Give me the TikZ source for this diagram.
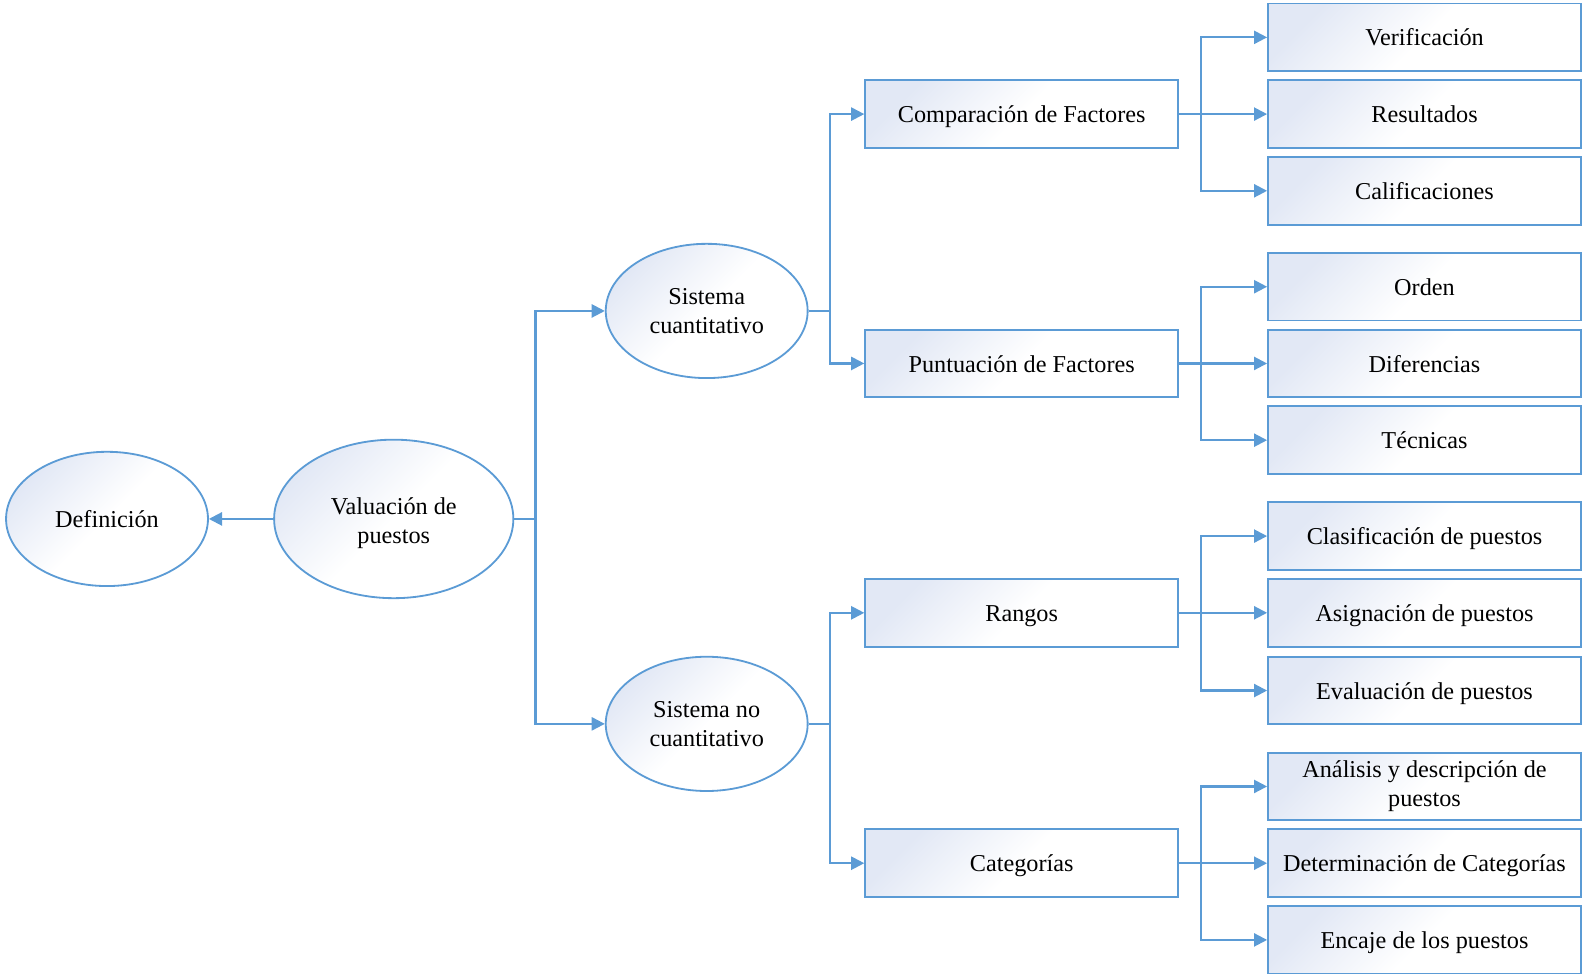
\documentclass[tikz,border=0pt]{standalone}
\usepackage{fontspec}
\setmainfont{Liberation Serif}
\usepackage{tikz}
\usetikzlibrary{shapes.geometric, arrows.meta}
\definecolor{lineblue}{HTML}{5B9BD5}
\definecolor{gradblue}{HTML}{E2E8F5}
\tikzset{
  base/.style={draw=lineblue, line width=0.9pt, top color=gradblue, bottom color=white, middle color=white, shading angle=45, font=\fontsize{12}{14.5}\selectfont, align=center, inner sep=0pt},
  oval/.style={base, ellipse, minimum width=100pt, minimum height=66.5pt},
  bigoval/.style={base, ellipse, minimum width=118.5pt, minimum height=78.5pt},
  box/.style={base, rectangle, minimum width=155pt, minimum height=33.5pt, text height=11pt, text depth=2.5pt},
  twobox/.style={base, rectangle, minimum width=155pt, minimum height=33.5pt},
  conn/.style={draw=lineblue, line width=1.05pt, -{Triangle[length=6.5pt, width=6.5pt]}}
}
\begin{document}
\begin{tikzpicture}[x=0.5pt, y=-0.5pt]
\useasboundingbox (0,0) rectangle (1568,964);
\node[oval] (def) at (106,514) {Definición};
\node[bigoval] (val) at (390,514) {\rule{0pt}{12.5pt}Valuación de\\puestos};
\node[oval] (sc) at (700,308) {Sistema\\cuantitativo};
\node[oval] (snc) at (700,717) {Sistema no\\cuantitativo};
\node[box] (cf) at (1012,113) {Comparación de Factores};
\node[box] (pf) at (1012,360) {Puntuación de Factores};
\node[box] (ran) at (1012,607) {Rangos};
\node[box] (cat) at (1012,855) {Categorías};
\node[box] (ver) at (1411,37) {Verificación};
\node[box] (res) at (1411,113) {Resultados};
\node[box] (cal) at (1411,189) {Calificaciones};
\node[box] (ord) at (1411,284) {Orden};
\node[box] (dif) at (1411,360) {Diferencias};
\node[box] (tec) at (1411,436) {Técnicas};
\node[box] (clp) at (1411,531) {Clasificación de puestos};
\node[box] (asp) at (1411,607) {Asignación de puestos};
\node[box] (evp) at (1411,684) {Evaluación de puestos};
\node[twobox] (adp) at (1411,779) {Análisis y descripción de\\puestos};
\node[box] (dec) at (1411,855) {Determinación de Categorías};
\node[box] (enp) at (1411,931) {Encaje de los puestos};
\draw[conn] (val.west) -- (def.east);
\draw[conn] (val.east) -- ++(21,0) |- (sc.west);
\draw[conn] (val.east) -- ++(21,0) |- (snc.west);
\draw[conn] (sc.east) -- ++(21,0) |- (cf.west);
\draw[conn] (sc.east) -- ++(21,0) |- (pf.west);
\draw[conn] (snc.east) -- ++(21,0) |- (ran.west);
\draw[conn] (snc.east) -- ++(21,0) |- (cat.west);
\draw[conn] (cf.east) -- ++(22,0) |- (ver.west);
\draw[conn] (cf.east) -- ++(22,0) |- (res.west);
\draw[conn] (cf.east) -- ++(22,0) |- (cal.west);
\draw[conn] (pf.east) -- ++(22,0) |- (ord.west);
\draw[conn] (pf.east) -- ++(22,0) |- (dif.west);
\draw[conn] (pf.east) -- ++(22,0) |- (tec.west);
\draw[conn] (ran.east) -- ++(22,0) |- (clp.west);
\draw[conn] (ran.east) -- ++(22,0) |- (asp.west);
\draw[conn] (ran.east) -- ++(22,0) |- (evp.west);
\draw[conn] (cat.east) -- ++(22,0) |- (adp.west);
\draw[conn] (cat.east) -- ++(22,0) |- (dec.west);
\draw[conn] (cat.east) -- ++(22,0) |- (enp.west);
\end{tikzpicture}
\end{document}
